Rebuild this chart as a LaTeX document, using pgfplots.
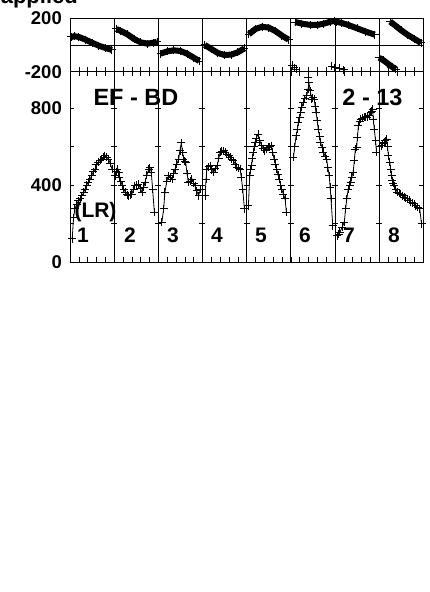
\documentclass[border=0pt]{standalone}
\usepackage{pgfplots}
\pgfplotsset{compat=1.18}
\usepackage{fontspec}
\setmainfont{Liberation Sans}
\begin{document}
\begin{tikzpicture}[x=1pt,y=1pt]
\pgfplotsset{
  panel/.style={
    scale only axis, width=353.3pt, xmin=0, xmax=8,
    axis line style={line width=0.8pt},
    tick style={black, line width=0.6pt},
    major tick length=4.5pt, tick align=inside,
    xtick distance=0.2, xticklabels={},
    extra x ticks={1,2,3,4,5,6,7}, extra x tick labels={},
    extra x tick style={grid=major, major grid style={black, line width=0.7pt}},
    yticklabel style={font=\fontsize{18.5}{18.5}\selectfont\bfseries, inner sep=0pt, xshift=-8pt},
    clip=false,
  },
  dat/.style={black, line width=0.8pt, mark=+, mark size=4pt, mark options={line width=0.9pt}},
  band/.style={black, line width=6pt, mark=+, mark size=4pt, mark options={line width=1pt}},
}
% ---------- lower panel ----------
\begin{axis}[panel, at={(70pt,330pt)}, anchor=south west, height=190.3pt,
  ymin=0, ymax=990, ytick={0,200,400,600,800}, yticklabels={0,,400,,800},
  yticklabel pos=left, xtick pos=both, ytick pos=both]
\addplot[dat] coordinates {(0.05,120)(0.08,230)(0.11,276)(0.15,300)(0.19,319)(0.23,330)(0.27,345)(0.31,362)(0.34,380)(0.38,400)(0.41,416)(0.45,430)(0.49,449)(0.53,470)(0.57,484)(0.60,505)(0.64,520)(0.68,530)(0.72,536)(0.76,545)(0.79,553)(0.83,545)(0.87,536)(0.91,515)(0.95,484)};
\addplot[dat] coordinates {(1.02,449)(1.05,470)(1.07,484)(1.10,465)(1.12,440)(1.15,420)(1.18,400)(1.22,380)(1.25,364)(1.29,350)(1.32,345)(1.36,350)(1.40,354)(1.44,380)(1.47,397)(1.51,400)(1.55,406)(1.59,385)(1.63,364)(1.67,390)(1.70,416)(1.74,450)(1.78,484)(1.81,490)(1.84,468)(1.87,380)(1.91,260)};
\addplot[dat] coordinates {(2.08,206)(2.12,276)(2.15,362)(2.19,420)(2.23,449)(2.27,440)(2.31,432)(2.35,460)(2.38,484)(2.42,510)(2.46,536)(2.49,580)(2.52,620)(2.55,570)(2.57,536)(2.60,525)(2.62,518)(2.65,460)(2.68,414)(2.72,420)(2.76,432)(2.80,410)(2.83,397)(2.87,370)(2.91,345)(2.96,380)};
\addplot[dat] coordinates {(3.06,345)(3.08,430)(3.10,484)(3.14,495)(3.17,501)(3.21,480)(3.25,466)(3.29,485)(3.33,501)(3.37,540)(3.40,570)(3.44,575)(3.48,579)(3.52,570)(3.55,562)(3.59,552)(3.63,544)(3.66,535)(3.70,527)(3.74,510)(3.78,492)(3.82,488)(3.85,484)(3.88,440)(3.91,380)(3.95,276)};
\addplot[dat] coordinates {(4.04,293)(4.07,449)(4.09,480)(4.11,501)(4.13,540)(4.15,570)(4.17,600)(4.19,622)(4.22,645)(4.26,666)(4.30,630)(4.34,605)(4.38,590)(4.41,579)(4.45,588)(4.49,596)(4.52,600)(4.56,605)(4.59,570)(4.62,536)(4.65,510)(4.68,484)(4.71,455)(4.74,432)(4.77,400)(4.79,380)(4.83,354)(4.87,328)(4.90,258)};
\addplot[dat] coordinates {(5.06,544)(5.09,600)(5.12,657)(5.15,690)(5.17,726)(5.20,750)(5.22,778)(5.25,805)(5.28,830)(5.32,850)(5.36,865)(5.39,900)(5.41,934)(5.44,890)(5.47,848)(5.50,855)(5.53,848)(5.55,810)(5.57,778)(5.60,735)(5.62,692)(5.65,655)(5.67,622)(5.71,595)(5.74,570)(5.78,550)(5.81,536)(5.84,490)(5.87,449)(5.89,390)(5.91,328)(5.95,189)};
\addplot[dat] coordinates {(6.05,137)(6.08,145)(6.11,154)(6.16,180)(6.21,206)(6.24,276)(6.27,330)(6.30,380)(6.33,400)(6.36,414)(6.38,440)(6.41,466)(6.44,530)(6.46,588)(6.49,596)(6.51,650)(6.53,709)(6.56,730)(6.58,744)(6.62,748)(6.66,752)(6.70,755)(6.73,752)(6.77,765)(6.81,778)(6.83,785)(6.85,796)(6.87,740)(6.89,692)(6.92,630)(6.94,570)};
\addplot[dat] coordinates {(7.06,605)(7.08,615)(7.11,622)(7.14,630)(7.17,640)(7.19,600)(7.21,553)(7.24,520)(7.26,484)(7.28,450)(7.30,423)(7.32,410)(7.34,397)(7.38,380)(7.41,362)(7.45,358)(7.49,354)(7.53,345)(7.57,336)(7.60,332)(7.64,328)(7.68,320)(7.72,310)(7.76,305)(7.79,302)(7.83,292)(7.87,284)(7.92,276)(7.96,198)};
\end{axis}
% ---------- upper panel ----------
\begin{axis}[panel, at={(70pt,520.3pt)}, anchor=south west, height=53.4pt,
  ymin=-200, ymax=200, ytick={-200,200}, yticklabels={-200,200},
  xtick pos=left, ytick pos=left,
  extra y ticks={0}, extra y tick labels={},
  extra y tick style={grid=major, major grid style={black, line width=0.7pt}}]
\addplot[band] coordinates {(0.03,60)(0.1,66)(0.2,60)(0.35,40)(0.5,17)(0.65,-5)(0.8,-22)(0.95,-37)};
\addplot[band] coordinates {(1.05,120)(1.15,105)(1.3,80)(1.45,45)(1.6,20)(1.75,10)(1.9,18)(1.97,25)};
\addplot[band] coordinates {(2.05,-65)(2.2,-48)(2.35,-40)(2.5,-45)(2.65,-65)(2.8,-95)(2.93,-120)};
\addplot[band] coordinates {(3.05,0)(3.2,-30)(3.35,-60)(3.5,-75)(3.65,-72)(3.8,-55)(3.95,-25)};
\addplot[band] coordinates {(4.05,80)(4.2,120)(4.35,137)(4.5,130)(4.65,105)(4.8,70)(4.95,40)};
\addplot[band] coordinates {(5.1,172)(5.25,160)(5.45,150)(5.6,150)(5.75,160)(5.9,175)(5.98,180)};
\addplot[band] coordinates {(6.03,175)(6.15,165)(6.3,150)(6.5,125)(6.7,100)(6.9,78)};
\addplot[band] coordinates {(7.25,175)(7.35,150)(7.5,110)(7.65,75)(7.8,45)(7.95,15)};
\addplot[band] coordinates {(7.0,-95)(7.1,-115)(7.2,-140)(7.3,-165)(7.38,-180)};
\addplot[black, only marks, mark=+, mark size=4pt, mark options={line width=1pt}] coordinates {(5.03,-150)(5.08,-170)(5.12,-182)(5.4,-245)(5.93,-160)(6.0,-172)(6.1,-175)(6.2,-185)};
\end{axis}
% ---------- inner y ticks on panel separators ----------
\foreach \i in {1,...,7} {
  \foreach \v in {200,400,600,800} {
    \draw[line width=0.6pt] ({70+\i*44.1625-3},{330+\v*0.19222}) -- ++(6,0);
  }
}
% ---------- texts ----------
\node[anchor=base east, inner sep=0pt, font=\fontsize{22}{22}\selectfont\bfseries] at (78,588.3) {applied};
\node[font=\fontsize{23.5}{23.5}\selectfont\bfseries] at (136,495) {EF - BD};
\node[font=\fontsize{23.5}{23.5}\selectfont\bfseries] at (372.5,495) {2 - 13};
\node[font=\fontsize{21}{21}\selectfont\bfseries] at (95.5,380) {(LR)};
\foreach \n/\xx in {1/83,2/130,3/173,4/217,5/261,6/305,7/349,8/394}
  \node[font=\fontsize{21}{21}\selectfont\bfseries] at (\xx,357) {\n};
\pgfresetboundingbox
\useasboundingbox (0,0) rectangle (430,592);
\end{tikzpicture}
\end{document}
